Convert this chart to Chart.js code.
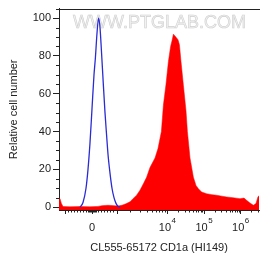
<!DOCTYPE html>
<html>
<head>
<meta charset="utf-8">
<script src="https://cdn.jsdelivr.net/npm/chart.js@4"></script>
<style>
  html, body { margin: 0; padding: 0; background: #fff; }
  canvas { display: block; }
</style>
</head>
<body>
<canvas id="histChart" width="260" height="262"></canvas>
<script>
// x is in display channels (0..1000) of the biexponential CD1a axis
const blueChannel = [105, 120, 135, 145, 155, 165, 175, 182, 190, 198, 205, 212, 220, 230, 238, 245, 255, 265, 275, 285, 295, 305];
const blueCount   = [0, 2.5, 10, 20, 34, 52, 70, 79, 92, 100, 95, 83, 68, 50, 38, 28, 18, 10, 5, 2, 0.5, 0];

const redChannel = [0, 5, 12, 20, 55, 105, 155, 195, 215, 245, 275, 295, 315, 335, 355, 370, 388, 405, 422, 438, 455, 480, 495, 512, 522, 535, 547, 558, 565, 572, 580, 588, 595, 602, 610, 622, 635, 642, 655, 672, 685, 697, 713, 738, 765, 788, 815, 838, 870, 905, 925, 938, 955, 972, 985, 995, 1000];
const redCount   = [4, 4.5, 2, 0.3, 0.2, 0.3, 0.2, 0.4, 0.8, 1, 0.8, 0.6, 1, 1.8, 2.8, 4.5, 6.3, 9, 12.4, 15.8, 21, 26, 31, 40, 54, 65, 77, 85, 88, 91.5, 90.5, 89.5, 88.5, 86, 77, 64.5, 51, 40, 26, 15.8, 11.5, 9.8, 8, 7.1, 6.6, 6.3, 5.8, 5.4, 5, 4.5, 4.8, 3.6, 2.2, 1, 2, 5.5, 6];

const xMajorTicks  = [30, 165, 290, 542, 725, 908];
const xTickBase    = ['', '0', '', '10', '10', '10'];
const xTickExp     = ['', '', '', '4', '5', '6'];
const xMinorTicks  = [45, 60, 75, 90, 105, 120, 135, 145, 150, 155, 160, 170, 175, 180, 185, 195, 210, 225, 240, 255, 270,
                      355, 405, 440, 465, 485, 500, 515, 528,
                      597, 629, 652, 670, 685, 697, 708, 717,
                      780, 812, 835, 853, 867, 879, 890, 899,
                      962, 994];
const yMajorTicks  = [0, 20, 40, 60, 80, 100];
const yMinorTicks  = [5, 10, 15, 25, 30, 35, 45, 50, 55, 65, 70, 75, 85, 90, 95, 105];

const axisColor = '#222';
const fontFamily = "'Liberation Sans', Arial, sans-serif";
const labelFont = { family: fontFamily, size: 11 };

const extras = {
    id: 'extras',
    beforeDatasetsDraw(chart) {
        // watermark behind the histograms
        const ctx = chart.ctx;
        ctx.save();
        ctx.font = '18px ' + fontFamily;
        ctx.textBaseline = 'alphabetic';
        ctx.textAlign = 'left';
        ctx.fillStyle = '#f2f2f2';
        ctx.strokeStyle = '#cfcfcf';
        ctx.lineWidth = 0.6;
        ctx.fillText('WWW.PTGLAB.COM', 73, 28);
        ctx.strokeText('WWW.PTGLAB.COM', 73, 28);
        ctx.restore();
    },
    afterDraw(chart) {
        const ctx = chart.ctx;
        const area = chart.chartArea;
        const xs = chart.scales.x;
        const ys = chart.scales.y;
        ctx.save();
        ctx.strokeStyle = axisColor;
        ctx.lineWidth = 1;
        ctx.beginPath();
        // top frame line
        ctx.moveTo(area.left - 2, Math.round(area.top) + 0.5);
        ctx.lineTo(area.right + 1, Math.round(area.top) + 0.5);
        // minor ticks
        xMinorTicks.forEach(v => {
            const px = Math.round(xs.getPixelForValue(v)) + 0.5;
            ctx.moveTo(px, area.bottom);
            ctx.lineTo(px, area.bottom + 2.5);
        });
        yMinorTicks.forEach(v => {
            const py = Math.round(ys.getPixelForValue(v)) + 0.5;
            ctx.moveTo(area.left, py);
            ctx.lineTo(area.left - 3, py);
        });
        ctx.stroke();

        // x tick labels with real superscripts
        ctx.fillStyle = axisColor;
        ctx.textBaseline = 'alphabetic';
        ctx.textAlign = 'left';
        const baseY = area.bottom + 21;
        xMajorTicks.forEach((v, i) => {
            if (!xTickBase[i]) return;
            ctx.font = '11px ' + fontFamily;
            const wb = ctx.measureText(xTickBase[i]).width;
            ctx.font = '8px ' + fontFamily;
            const we = xTickExp[i] ? ctx.measureText(xTickExp[i]).width + 0.5 : 0;
            const left = xs.getPixelForValue(v) - (wb + we) / 2;
            ctx.font = '11px ' + fontFamily;
            ctx.fillText(xTickBase[i], left, baseY);
            if (xTickExp[i]) {
                ctx.font = '8px ' + fontFamily;
                ctx.fillText(xTickExp[i], left + wb + 0.5, baseY - 8);
            }
        });
        ctx.restore();
    }
};

const ctx = document.getElementById('histChart').getContext('2d');
const histChart = new Chart(ctx, {
    type: 'scatter',
    data: {
        datasets: [{
            label: 'Control',
            data: blueChannel.map((c, i) => ({ x: c, y: blueCount[i] })),
            showLine: true,
            borderColor: '#2b2bd4',
            borderWidth: 1.3,
            pointRadius: 0,
            fill: false,
            cubicInterpolationMode: 'monotone'
        }, {
            label: 'CD1a',
            data: redChannel.map((c, i) => ({ x: c, y: redCount[i] })),
            showLine: true,
            borderColor: '#ff0000',
            backgroundColor: '#ff0000',
            borderWidth: 0.5,
            pointRadius: 0,
            fill: 'start',
            tension: 0
        }]
    },
    options: {
        responsive: false,
        animation: false,
        layout: { padding: { top: 6, right: 1, left: 0, bottom: 0 } },
        plugins: {
            legend: { display: false },
            tooltip: { enabled: false }
        },
        scales: {
            x: {
                type: 'linear',
                min: 0,
                max: 1000,
                afterBuildTicks: s => { s.ticks = xMajorTicks.map(v => ({ value: v })); },
                afterFit: s => { s.height = 52; },
                grid: { drawOnChartArea: false, drawTicks: true, tickLength: 4, tickColor: axisColor },
                border: { display: true, color: axisColor, width: 1 },
                ticks: { display: false, autoSkip: false },
                title: {
                    display: true,
                    text: 'CL555-65172 CD1a (HI149)',
                    color: axisColor,
                    font: labelFont,
                    padding: { top: 0, bottom: 7 }
                }
            },
            y: {
                type: 'linear',
                min: -1.5,
                max: 105,
                afterBuildTicks: s => { s.ticks = yMajorTicks.map(v => ({ value: v })); },
                afterFit: s => { s.width = 59; },
                grid: { drawOnChartArea: false, drawTicks: true, tickLength: 6, tickColor: axisColor },
                border: { display: true, color: axisColor, width: 1 },
                ticks: {
                    padding: 2,
                    color: axisColor,
                    font: labelFont
                },
                title: {
                    display: true,
                    text: 'Relative cell number',
                    color: axisColor,
                    font: labelFont,
                    padding: { top: 7, bottom: 0 }
                }
            }
        }
    },
    plugins: [extras]
});
</script>
</body>
</html>
